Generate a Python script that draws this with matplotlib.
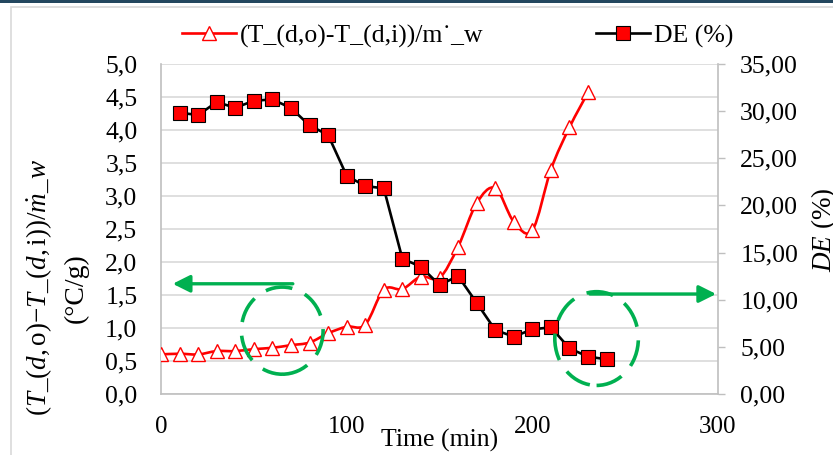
import numpy as np
import matplotlib; matplotlib.use("Agg")
import matplotlib.pyplot as plt
from matplotlib.path import Path
from matplotlib.patches import PathPatch, Ellipse, Rectangle
from matplotlib.lines import Line2D
from matplotlib.ticker import FuncFormatter

plt.rcParams["font.family"] = ["Liberation Serif", "DejaVu Serif"]
plt.rcParams["mathtext.fontset"] = "custom"
plt.rcParams["mathtext.rm"] = "Liberation Serif"
plt.rcParams["mathtext.it"] = "Liberation Serif:italic"

# data
time_t = [0, 10, 20, 30, 40, 50, 60, 70, 80, 90, 100, 110, 120, 130, 140, 150,
          160, 170, 180, 190, 200, 210, 220, 230]
dT_mw = [0.60, 0.61, 0.60, 0.65, 0.65, 0.68, 0.70, 0.74, 0.78, 0.92, 1.02, 1.05,
         1.58, 1.59, 1.78, 1.76, 2.23, 2.89, 3.12, 2.61, 2.48, 3.40, 4.04, 4.57]
time_de = [10, 20, 30, 40, 50, 60, 70, 80, 90, 100, 110, 120, 130, 140, 150, 160,
           170, 180, 190, 200, 210, 220, 230, 240]
de_pct = [29.83, 29.59, 30.96, 30.36, 31.10, 31.25, 30.33, 28.49, 27.47, 23.15,
          22.06, 21.81, 14.35, 13.50, 11.56, 12.51, 9.68, 6.79, 6.08, 6.86, 7.07,
          4.84, 3.96, 3.68]
label_t = "(T_(d,o)-T_(d,i))/m\u02d9_w"
label_de = "DE (%)"

GREEN = "#00B050"
LW = 1.9

fig = plt.figure(figsize=(8.33, 4.55), dpi=100)
# chart frame + dark top band
fig.patches.append(Rectangle((11/833, -0.1), 1.2, 1 - 7/455 + 0.1, transform=fig.transFigure,
                             fill=False, edgecolor="#D9D9D9", linewidth=1.2, zorder=0))
fig.patches.append(Rectangle((0, 1 - 3/455), 1, 3/455, transform=fig.transFigure,
                             facecolor="#23475F", edgecolor="none", zorder=0))

ax = fig.add_axes([161/833, 61/455, 557/833, 330/455])
ax2 = ax.twinx()

# Excel-style smoothed line (Bezier through the data points)
pts = np.column_stack([time_t, dT_mw])
verts, codes = [pts[0]], [Path.MOVETO]
for i in range(len(pts) - 1):
    p0 = pts[max(i - 1, 0)]; p1 = pts[i]; p2 = pts[i + 1]; p3 = pts[min(i + 2, len(pts) - 1)]
    verts += [p1 + (p2 - p0) / 6, p2 - (p3 - p1) / 6, p2]
    codes += [Path.CURVE4] * 3
ax.add_patch(PathPatch(Path(verts, codes), facecolor="none", edgecolor="red", lw=LW, zorder=3))
ax.plot(time_t, dT_mw, ls="none", marker="^", ms=9.5, mfc="white", mec="red", mew=1.0, zorder=4)

ax2.plot(time_de, de_pct, color="black", lw=LW, marker="s", ms=9.5, mfc="red", mec="black",
         mew=0.8, zorder=3)

ax.set_xlim(0, 300)
ax.set_ylim(0, 5)
ax2.set_ylim(0, 35)
ax.set_xticks([0, 100, 200, 300])
ax.set_yticks(np.arange(0, 5.01, 0.5))
ax2.set_yticks(np.arange(0, 35.01, 5))
ax.yaxis.set_major_formatter(FuncFormatter(lambda v, p: f"{v:.1f}".replace(".", ",")))
ax2.yaxis.set_major_formatter(FuncFormatter(lambda v, p: f"{v:.2f}".replace(".", ",")))
ax.tick_params(axis="both", length=0)
ax.tick_params(axis="y", pad=17, labelsize=18.5)
ax.tick_params(axis="x", pad=16, labelsize=18)
ax2.tick_params(axis="y", length=5, width=1, color="#BFBFBF", pad=11, labelsize=18.5)
ax.grid(axis="y", color="#D9D9D9", lw=1.2)
ax.set_axisbelow(True)
for a in (ax, ax2):
    a.spines["top"].set_visible(False)
    for s in ("left", "right", "bottom"):
        a.spines[s].set_color("#BFBFBF")
        a.spines[s].set_linewidth(1.2)
ax2.spines["left"].set_visible(False)
ax2.spines["bottom"].set_visible(False)
ax.spines["right"].set_visible(False)

# green annotations
ell_kw = dict(fill=False, edgecolor=GREEN, lw=2.6, linestyle=(0, (7.5, 3.8)), transform=ax.transData, zorder=6)
ax2.add_patch(Ellipse((65.3, 0.96), 44, 1.32, **ell_kw))
ax2.add_patch(Ellipse((234.6, 0.84), 45, 1.42, **ell_kw))
arr = dict(arrowstyle="-|>", mutation_scale=26, lw=2.4, color=GREEN, shrinkA=0, shrinkB=0)
ax2.annotate("", xy=(6.3, 1.67), xytext=(71, 1.67), xycoords=ax.transData,
             textcoords=ax.transData, arrowprops=arr, zorder=6)
ax2.annotate("", xy=(299, 1.515), xytext=(231, 1.515), xycoords=ax.transData,
             textcoords=ax.transData, arrowprops=arr, zorder=6, annotation_clip=False)

# axis titles
fig.text(439.5/833, 1 - 440/455, "Time (min)", ha="center", va="center", fontsize=18.5)
fig.text(39/833, 1 - 288/455, r"$(T\_(d,\mathrm{o}){-}T\_(d,\mathrm{i}))/\dot{m}\_w$",
         rotation=90, ha="center", va="center", fontsize=19.5)
fig.text(76/833, 1 - 288/455, "(\u00b0C/g)", rotation=90, ha="center", va="center", fontsize=20)
fig.text(824/833, 1 - 230/455, r"$DE$ (%)", rotation=90, ha="center", va="center", fontsize=19.5)

handles = [Line2D([], [], color="red", lw=LW, marker="^", ms=9.5, mfc="white", mec="red"),
           Line2D([], [], color="black", lw=LW, marker="s", ms=9.5, mfc="red", mec="black", mew=0.8)]
fig.legend(handles, [label_t, label_de], loc="center", bbox_to_anchor=(457.5/833, 1 - 36/455),
           ncol=2, frameon=False, fontsize=18.5, handlelength=2.1, handletextpad=0.15,
           columnspacing=4.4, borderpad=0)

fig.savefig("out.png", dpi=100)
